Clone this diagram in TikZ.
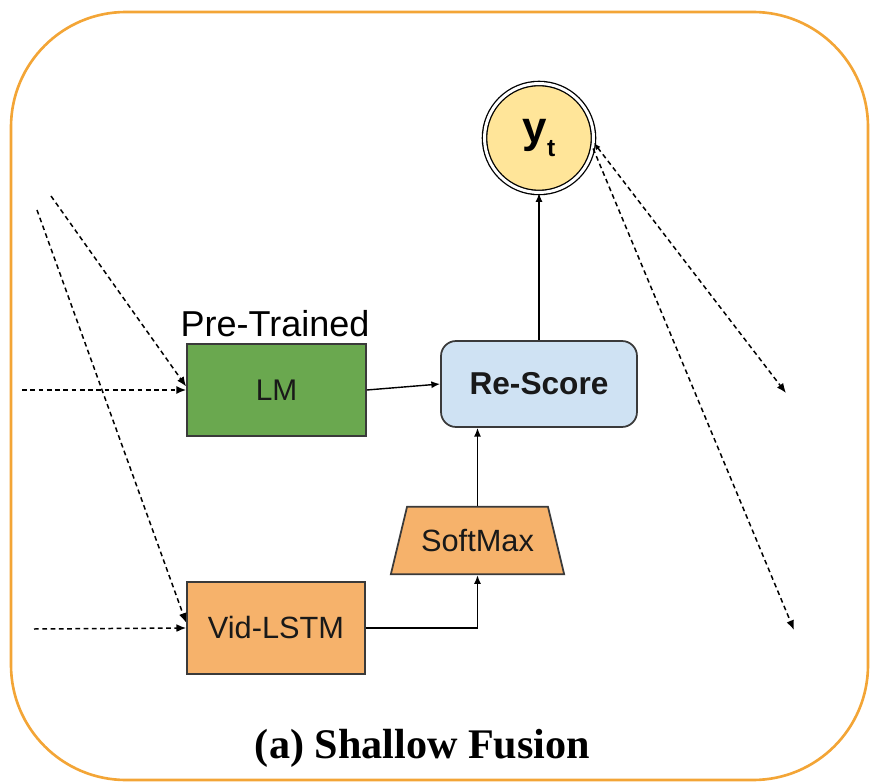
\documentclass[tikz,border=0pt]{standalone}
\usepackage{fontspec}
\setmainfont{Liberation Sans}
\newfontfamily\captionfont{Liberation Serif}
\usetikzlibrary{arrows.meta,shapes.geometric}

\definecolor{framecol}{HTML}{F3A536}
\definecolor{linecol}{HTML}{3A3A3A}
\definecolor{lmgreen}{HTML}{6AA84F}
\definecolor{vidorange}{HTML}{F6B26B}
\definecolor{scoreblue}{HTML}{CFE2F3}
\definecolor{ytyellow}{HTML}{FFE599}

\tikzset{
  block/.style={draw=linecol, line width=1pt, minimum width=3.58cm, minimum height=1.84cm,
    text=black!90, font=\fontsize{17.5}{20}\selectfont},
  flow/.style={-{Latex[length=5pt,width=4pt]}, line width=0.8pt},
  hint/.style={dash pattern=on 2.7pt off 2pt, line width=0.85pt, -{Latex[length=5.5pt,width=4.5pt]}},
}

\begin{document}
\begin{tikzpicture}[x=0.02cm, y=-0.02cm]
  \useasboundingbox (0,0) rectangle (871,783);
  % Frame
  \draw[framecol, line width=1.5pt, rounded corners=2.3cm] (11,12) rectangle (868,780);

  % Output word
  \node[circle, draw, double, double distance=1.7pt, line width=0.75pt, fill=ytyellow,
    minimum size=2.18cm, inner sep=0pt] (yt) at (539,138)
    {\fontsize{25}{25}\selectfont\bfseries y\raisebox{-0.3em}{\fontsize{14}{14}\selectfont t}};

  % Re-Score
  \node[block, fill=scoreblue, rounded corners=0.3cm, minimum width=3.92cm, minimum height=1.72cm,
    font=\fontsize{18}{20}\selectfont\bfseries] (rescore) at (539,384) {Re-Score};

  % Language model
  \node[block, fill=lmgreen, font=\fontsize{17}{20}\selectfont] (lm) at (276.5,390) {LM};
  \node[anchor=base, font=\fontsize{20.5}{22}\selectfont] (pretrained) at (275,337) {Pre-Trained};

  % Video LSTM and SoftMax
  \node[block, fill=vidorange, minimum width=3.56cm] (vid) at (276,628) {Vid-LSTM};
  \node[block, fill=vidorange, trapezium, trapezium angle=76.5, minimum width=0pt, minimum height=0pt,
    inner xsep=8pt, inner ysep=12.8pt] (softmax) at (477.5,540.5) {SoftMax};

  % Solid connections
  \draw[flow] (lm.east) -- (rescore.west);
  \draw[flow] (vid.east) -| (softmax.south);
  \draw[flow] (softmax.north) -- (softmax.north |- rescore.south);
  \draw[flow] (rescore.north) -- (yt.south);

  % Dashed inputs
  \coordinate (in1) at (22,390);
  \coordinate (in2) at (51,196);
  \coordinate (in3) at (37,210);
  \coordinate (in4) at (34,629);
  \draw[hint] (in1) -- (lm.west);
  \draw[hint] (in2) -- ([yshift=2pt]lm.west);
  \draw[hint] (in3) -- ([yshift=3pt]vid.west);
  \draw[hint] (in4) -- (vid.west);

  % Dashed outputs
  \coordinate (out1) at (786,393);
  \coordinate (out2) at (794,630);
  \draw[hint, {Latex[length=4pt,width=3pt]}-{Latex[length=5.5pt,width=4.5pt]}] (yt.-5) -- (out1);
  \draw[hint] (yt.-11) -- (out2);

  % Caption
  \node[anchor=base, font=\captionfont\bfseries\fontsize{24}{26}\selectfont] (caption) at (422.5,758) {(a) Shallow Fusion};
\end{tikzpicture}
\end{document}
